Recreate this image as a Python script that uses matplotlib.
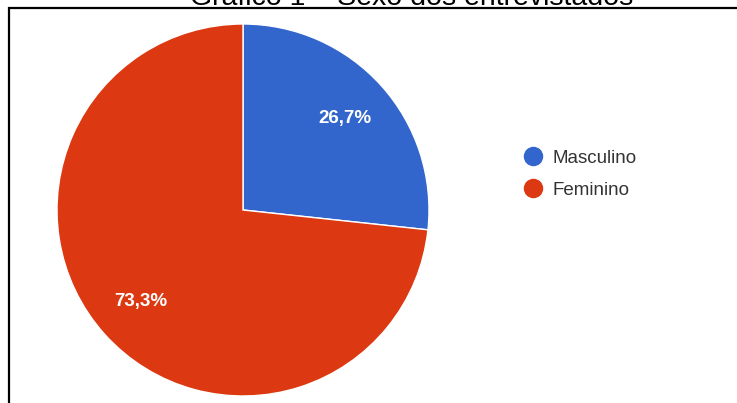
import matplotlib.pyplot as plt
from matplotlib.patches import Rectangle
from matplotlib.lines import Line2D

plt.rcParams['font.family'] = ['Liberation Sans', 'DejaVu Sans']

# Dados do gráfico
categorias = ["Masculino", "Feminino"]
percentuais = [26.7, 73.3]
cores = ["#3366CC", "#DC3912"]
titulo = "Gráfico 1 – Sexo dos entrevistados"

W, H = 737, 403
fig = plt.figure(figsize=(W / 100, H / 100), dpi=100)

# Pizza: centro (243, 210) px a partir do topo, raio 186 px
cx, cy, r = 243, 210, 186
ax = fig.add_axes([(cx - r) / W, (H - cy - r) / H, 2 * r / W, 2 * r / H])
wedges, textos, autotextos = ax.pie(
    percentuais, colors=cores, startangle=90, counterclock=False,
    autopct=lambda p: f"{p:.1f}%".replace(".", ","), pctdistance=0.74,
    wedgeprops=dict(edgecolor="white", linewidth=1.0),
    textprops=dict(color="white", fontsize=13.5, fontweight="bold"),
)
ax.set_xlim(-1, 1)
ax.set_ylim(-1, 1)
ax.set_aspect("equal")
ax.axis("off")

# Legenda com marcadores circulares
handles = [Line2D([0], [0], marker="o", linestyle="", markersize=13,
                  markerfacecolor=c, markeredgecolor=c) for c in cores]
leg = fig.legend(handles, categorias, loc="upper left",
                 bbox_to_anchor=(513 / W, 1 - 142 / H), frameon=False,
                 fontsize=13.5, labelcolor="#333333", handletextpad=0.4,
                 labelspacing=0.8, borderaxespad=0, handlelength=1.3)

# Moldura (cortada pela borda da figura)
fig.patches.append(Rectangle((9 / W, -0.1), 1.0, (H - 8) / H + 0.1,
                             transform=fig.transFigure, fill=False,
                             edgecolor="black", linewidth=1.6, clip_on=False))

# Título parcialmente visível no topo
fig.text(412 / W, (H - 5) / H, titulo, ha="center", va="baseline",
         fontsize=20.5, color="black")

fig.savefig("out.png", dpi=100)
